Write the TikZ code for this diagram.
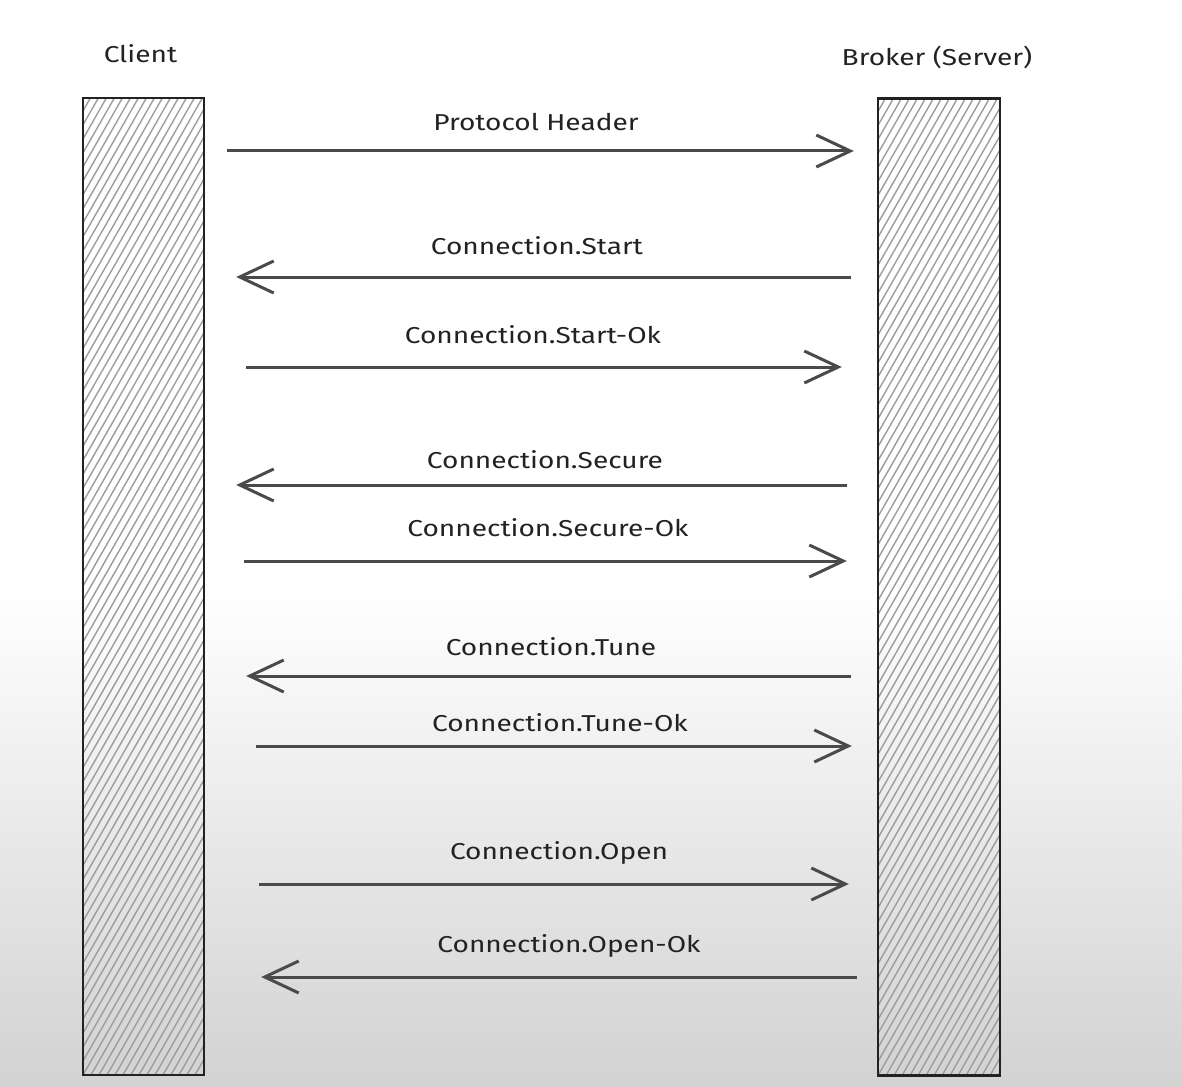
\documentclass[tikz,border=0pt]{standalone}
\usepackage{fontspec}
\setmainfont{Fira Sans}[FakeStretch=1.22]
\usepackage{xcolor}
\usepackage{tikz}
\usetikzlibrary{arrows.meta,calc,positioning}
\definecolor{Ink}{HTML}{222222}
\definecolor{Wire}{HTML}{4A4A4A}
\definecolor{Hatch}{HTML}{9C9C9C}
\definecolor{Fade}{HTML}{D2D2D2}
\tikzset{
  lane/.style={draw=Ink,line width=2.4pt,minimum width=121pt,minimum height=977pt,inner sep=0pt,
    path picture={
      \foreach \k in {-584,-576,...,130}
        \draw[Hatch,line width=1.4pt] ($(path picture bounding box.south west)+(\k,0)$) -- ++(584,-1020);
    }},
  actor/.style={text=Ink,font=\fontsize{23}{27}\selectfont},
  msg/.style={Wire,line width=3pt},
  tosv/.style={-{Straight Barb[length=34pt,width=32pt]}},
  tocl/.style={{Straight Barb[length=34pt,width=32pt]}-},
  lbl/.style={text=Ink,font=\fontsize{23}{27}\selectfont,midway,anchor=base}
}
\begin{document}
\begin{tikzpicture}[x=1pt,y=-1pt]
  \useasboundingbox (0,0) rectangle (1182,1086);
  \fill[white] (0,0) rectangle (1182,1086);
  \shade[top color=white,bottom color=Fade] (0,590) rectangle (1182,1086);
  \node[lane] (client) at (143.5,586.5) {};
  \node[lane,minimum width=122pt] (broker) at (939,587) {};
  \node[actor,above=30pt of client,xshift=-3pt] (clientname) {Client};
  \node[actor,above=25pt of broker,xshift=-2pt] (brokername) {Broker (Server)};
  % y / gap at client / gap at broker / direction / baseline rise / label shift / text
  \foreach \y/\a/\b/\d/\r/\s/\t in {
    151/22/23/tosv/20/-5/Protocol Header,
    277/31/26/tocl/23/-4/Connection.Start,
    367/41/35/tosv/24/-8/Connection.Start-Ok,
    485/31/30/tocl/17/4/Connection.Secure,
    561/39/30/tosv/25/7/Connection.Secure-Ok,
    676/41/26/tocl/21/10/Connection.Tune,
    746/51/25/tosv/15/19/Connection.Tune-Ok,
    884/54/28/tosv/25/18/Connection.Open,
    977/56/20/tocl/25/28/Connection.Open-Ok}
  {
    \draw[msg,\d,shorten <=\a pt,shorten >=\b pt] (client.east |- 0,\y) -- (broker.west |- 0,\y)
      node[lbl,yshift=\r pt,xshift=\s pt] {\t};
  }
\end{tikzpicture}
\end{document}
